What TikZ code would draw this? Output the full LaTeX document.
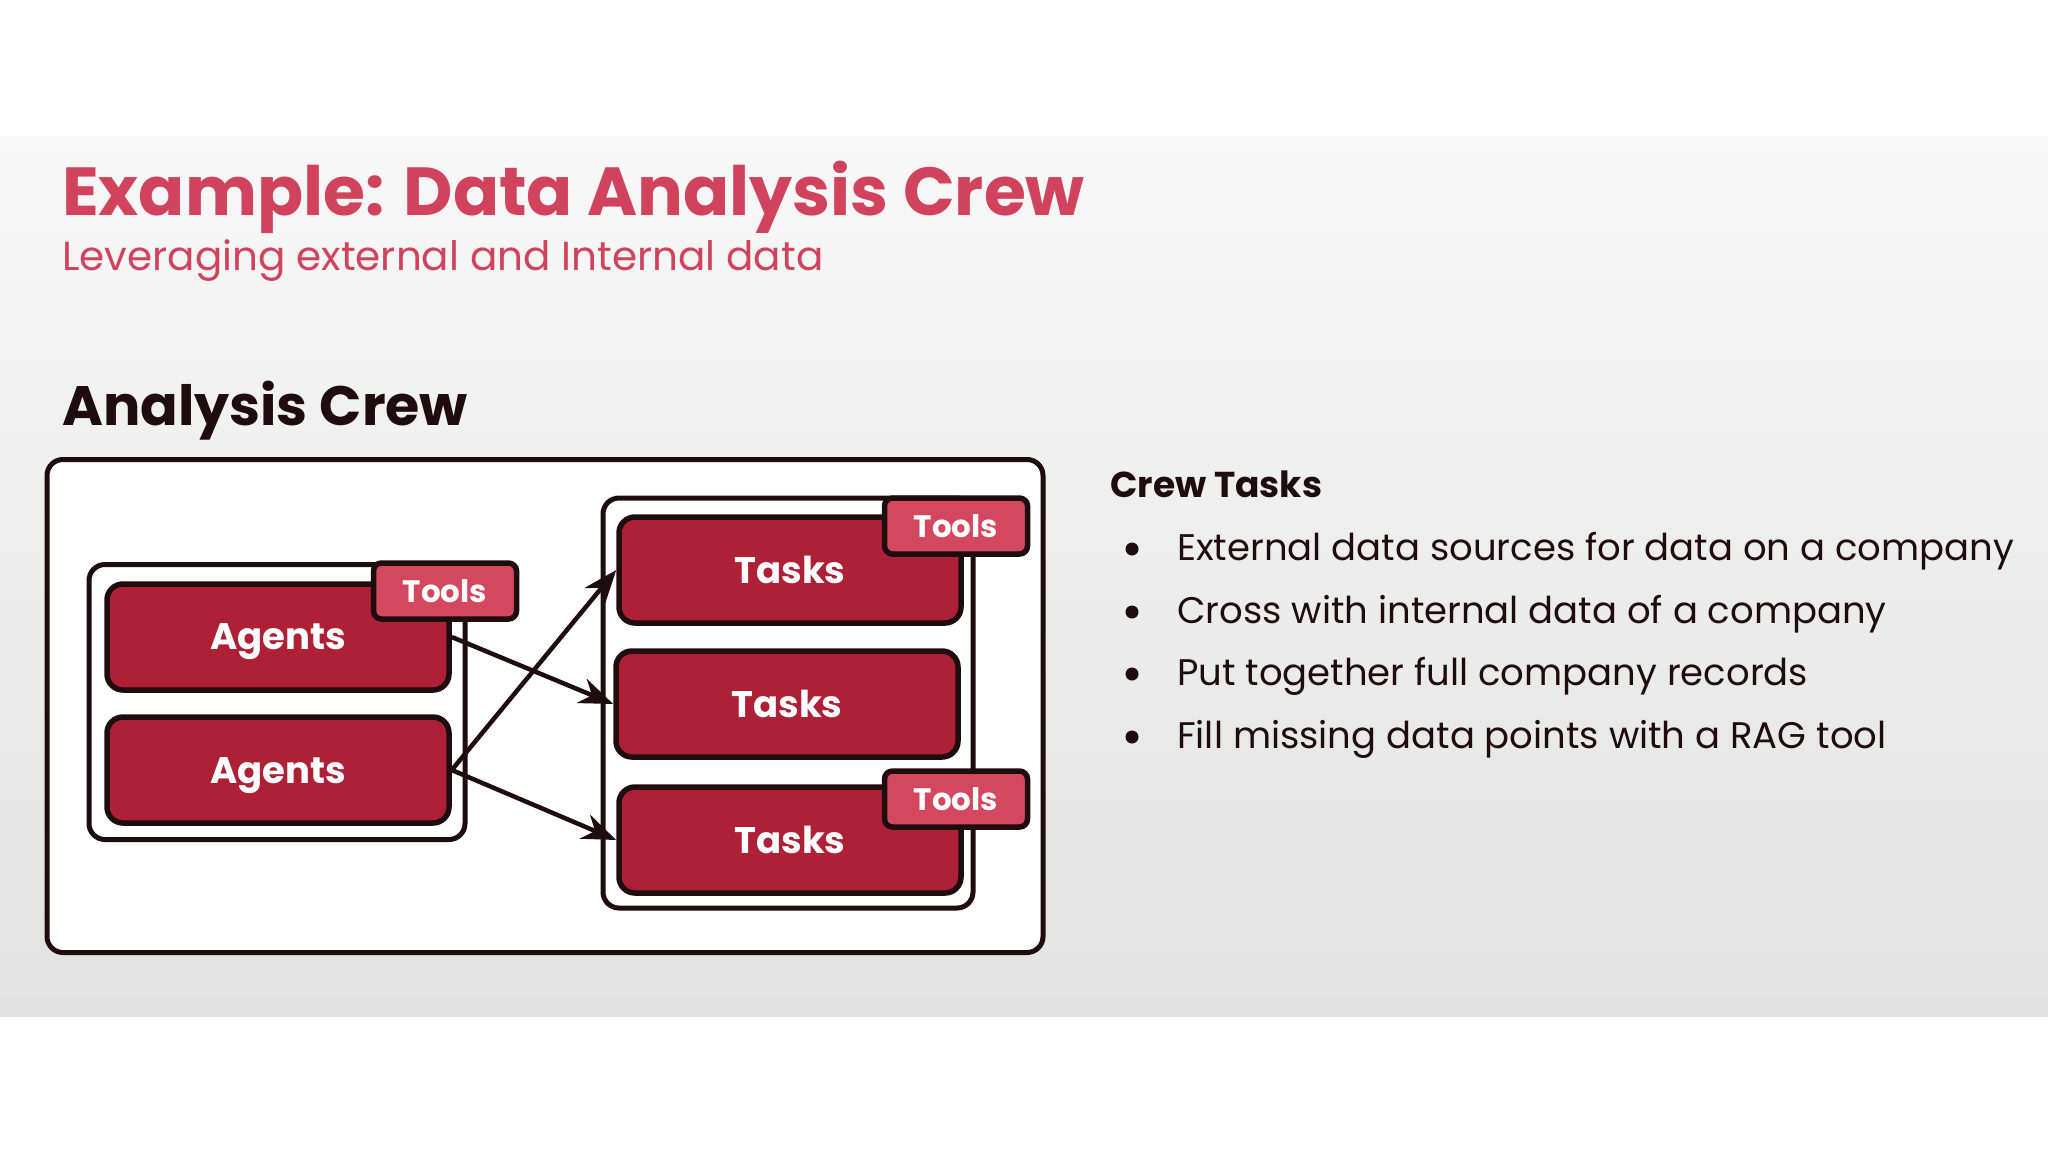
\documentclass[tikz,border=0pt]{standalone}
\usepackage{fontspec}
\setmainfont{Poppins}
\usetikzlibrary{arrows.meta}
\definecolor{titlered}{RGB}{209,67,92}
\definecolor{boxred}{RGB}{174,32,54}
\definecolor{toolred}{RGB}{212,72,95}
\definecolor{inkdark}{RGB}{30,12,14}
\definecolor{paneltop}{RGB}{248,248,248}
\definecolor{panelbottom}{RGB}{226,226,226}
\tikzset{
    crewbox/.style={draw=inkdark, line width=5.5pt, fill=boxred, rounded corners=16pt, inner sep=0pt, text depth=0pt,
        text=white, font=\bfseries\fontsize{37}{40}\selectfont, minimum width=342pt, minimum height=106pt},
    toolbox/.style={draw=inkdark, line width=5.5pt, fill=toolred, rounded corners=8pt, inner sep=0pt,
        text=white, font=\bfseries\fontsize{31}{33}\selectfont, minimum width=143pt, minimum height=56pt},
    groupbox/.style={draw=inkdark, line width=5pt, fill=white, rounded corners=16pt, inner sep=0pt},
    flow/.style={-{Stealth[length=34pt,width=26pt]}, line width=4.5pt, draw=inkdark},
    bullettext/.style={anchor=base west, inner sep=0pt, text=inkdark, font=\fontsize{37}{40}\selectfont},
}
\begin{document}
\begin{tikzpicture}[x=1pt, y=-1pt]
    \useasboundingbox (0,0) rectangle (2048,1152);
    \fill[white] (0,0) rectangle (2048,1152);
    \shade[top color=paneltop, bottom color=panelbottom] (0,136) rectangle (2048,1016);

    % headings
    \node[anchor=base west, inner sep=0pt, text=titlered, font=\bfseries\fontsize{68}{70}\selectfont] (title) at (62,215) {Example: Data Analysis Crew};
    \node[anchor=base west, inner sep=0pt, text=titlered, font=\fontsize{40.5}{44}\selectfont] (subtitle) at (62,270) {Leveraging external and Internal data};
    \node[anchor=base west, inner sep=0pt, text=inkdark, font=\bfseries\fontsize{55.5}{58}\selectfont] (crewhead) at (62,425) {Analysis Crew};

    % crew diagram
    \node[groupbox, minimum width=996pt, minimum height=493pt] (crew) at (545,706) {};
    \node[groupbox, minimum width=376pt, minimum height=275pt] (agentgroup) at (277,702) {};
    \node[groupbox, minimum width=370pt, minimum height=410pt] (taskgroup) at (788,703) {};

    \node[crewbox] (agentsA) at (278,637) {Agents};
    \node[crewbox] (agentsB) at (278,770) {Agents};
    \node[toolbox] (toolsA) at (445,591) {Tools};

    \node[crewbox] (tasksA) at (790,570) {Tasks};
    \node[crewbox] (tasksB) at (787,704) {Tasks};
    \node[crewbox] (tasksC) at (790,840) {Tasks};
    \node[toolbox] (toolsB) at (956,526) {Tools};
    \node[toolbox] (toolsC) at (956,799) {Tools};

    \draw[flow] (agentsA.east) -- (tasksB.west);
    \draw[flow] (agentsB.east) -- (tasksA.west);
    \draw[flow] (agentsB.east) -- (tasksC.west);

    % crew tasks list
    \node[anchor=base west, inner sep=0pt, text=inkdark, font=\bfseries\fontsize{36}{38}\selectfont] (taskhead) at (1110,497) {Crew Tasks};
    \node[bullettext] (itemA) at (1177,560) {External data sources for data on a company};
    \node[bullettext] (itemB) at (1177,623) {Cross with internal data of a company};
    \node[bullettext] (itemC) at (1177,685) {Put together full company records};
    \node[bullettext] (itemD) at (1177,748) {Fill missing data points with a RAG tool};
    \fill[inkdark] (1132,549) circle (6.5);
    \fill[inkdark] (1132,612) circle (6.5);
    \fill[inkdark] (1132,674) circle (6.5);
    \fill[inkdark] (1132,737) circle (6.5);
\end{tikzpicture}
\end{document}
